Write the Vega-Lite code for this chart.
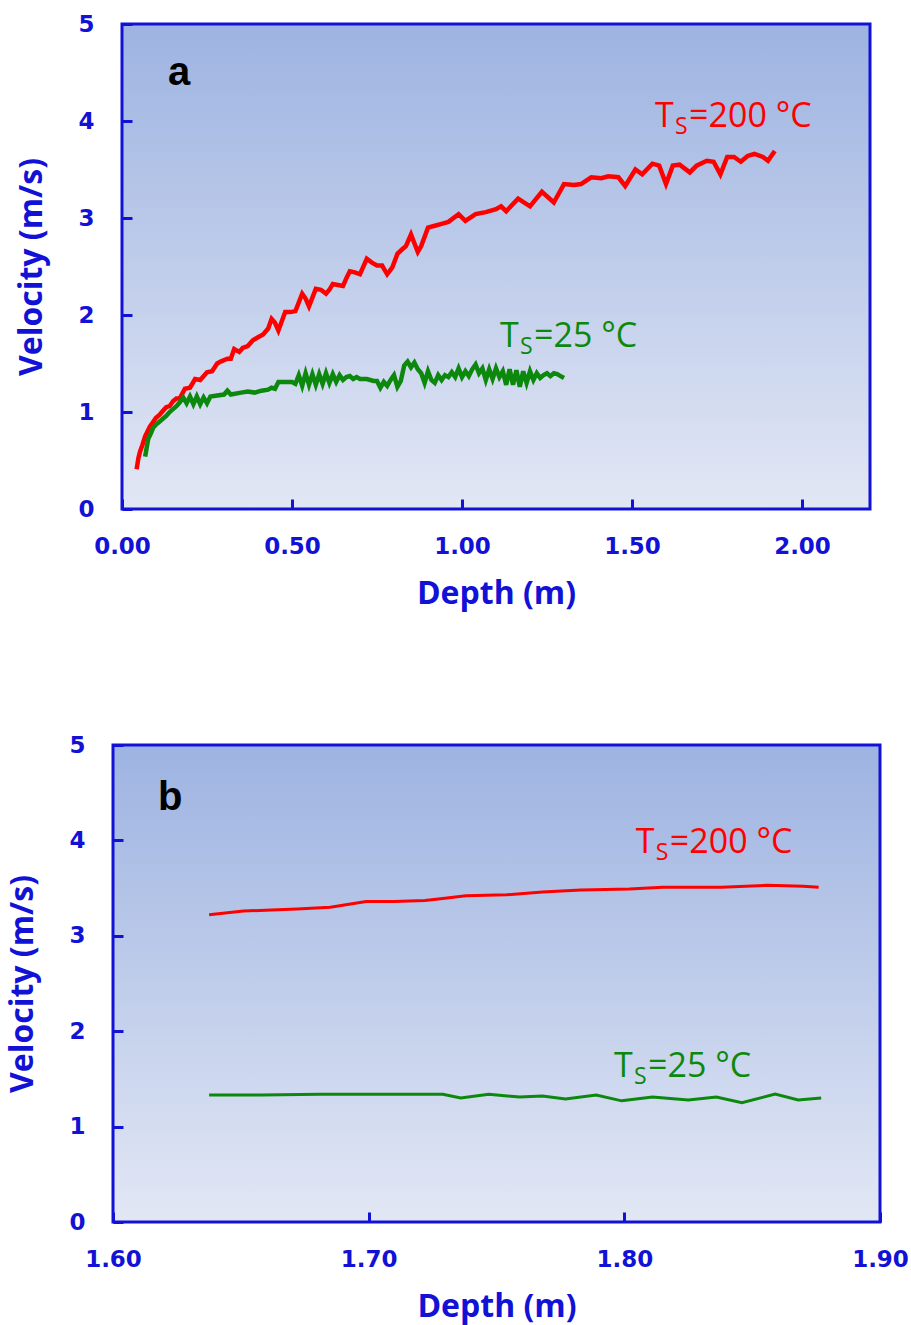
{
  "$schema": "https://vega.github.io/schema/vega-lite/v6.json",
  "background": "white",
  "padding": {"left": 6, "top": 13, "right": 2, "bottom": 5},
  "spacing": 125,
  "config": {
    "view": {"stroke": null},
    "axis": {
      "domain": false, "grid": false, "labelFlush": false,
      "labelColor": "#1212d6", "labelFont": "DejaVu Sans", "labelFontWeight": "bold", "labelFontSize": 23,
      "titleColor": "#1212d6", "titleFont": "Open Sans", "titleFontWeight": "bold", "titleFontSize": 32,
      "tickColor": "#1212d6", "tickWidth": 3, "tickSize": 10, "offset": -10, "zindex": 2
    }
  },
  "datasets": {
    "lineA": [
      {"s":"200","x":0.043,"y":0.41},{"s":"200","x":0.048,"y":0.52},{"s":"200","x":0.053,"y":0.59},{"s":"200","x":0.060,"y":0.66},{"s":"200","x":0.068,"y":0.75},{"s":"200","x":0.075,"y":0.80},{"s":"200","x":0.082,"y":0.85},{"s":"200","x":0.092,"y":0.90},{"s":"200","x":0.100,"y":0.94},{"s":"200","x":0.110,"y":0.97},{"s":"200","x":0.120,"y":1.01},{"s":"200","x":0.130,"y":1.05},{"s":"200","x":0.140,"y":1.06},{"s":"200","x":0.150,"y":1.11},{"s":"200","x":0.160,"y":1.14},{"s":"200","x":0.170,"y":1.14},{"s":"200","x":0.185,"y":1.24},{"s":"200","x":0.200,"y":1.25},{"s":"200","x":0.215,"y":1.34},{"s":"200","x":0.230,"y":1.33},{"s":"200","x":0.250,"y":1.41},{"s":"200","x":0.265,"y":1.42},{"s":"200","x":0.280,"y":1.50},{"s":"200","x":0.290,"y":1.52},{"s":"200","x":0.310,"y":1.55},{"s":"200","x":0.320,"y":1.55},{"s":"200","x":0.330,"y":1.65},{"s":"200","x":0.345,"y":1.62},{"s":"200","x":0.355,"y":1.66},{"s":"200","x":0.370,"y":1.68},{"s":"200","x":0.385,"y":1.74},{"s":"200","x":0.400,"y":1.77},{"s":"200","x":0.415,"y":1.80},{"s":"200","x":0.430,"y":1.86},{"s":"200","x":0.440,"y":1.96},{"s":"200","x":0.450,"y":1.92},{"s":"200","x":0.460,"y":1.84},{"s":"200","x":0.480,"y":2.03},{"s":"200","x":0.495,"y":2.03},{"s":"200","x":0.510,"y":2.04},{"s":"200","x":0.530,"y":2.22},{"s":"200","x":0.540,"y":2.17},{"s":"200","x":0.550,"y":2.09},{"s":"200","x":0.570,"y":2.27},{"s":"200","x":0.585,"y":2.26},{"s":"200","x":0.600,"y":2.22},{"s":"200","x":0.610,"y":2.26},{"s":"200","x":0.620,"y":2.32},{"s":"200","x":0.635,"y":2.31},{"s":"200","x":0.650,"y":2.30},{"s":"200","x":0.660,"y":2.38},{"s":"200","x":0.670,"y":2.45},{"s":"200","x":0.685,"y":2.44},{"s":"200","x":0.700,"y":2.42},{"s":"200","x":0.720,"y":2.58},{"s":"200","x":0.735,"y":2.54},{"s":"200","x":0.750,"y":2.51},{"s":"200","x":0.765,"y":2.51},{"s":"200","x":0.780,"y":2.42},{"s":"200","x":0.795,"y":2.49},{"s":"200","x":0.810,"y":2.63},{"s":"200","x":0.825,"y":2.68},{"s":"200","x":0.835,"y":2.71},{"s":"200","x":0.850,"y":2.83},{"s":"200","x":0.860,"y":2.74},{"s":"200","x":0.870,"y":2.65},{"s":"200","x":0.880,"y":2.71},{"s":"200","x":0.900,"y":2.90},{"s":"200","x":0.920,"y":2.92},{"s":"200","x":0.940,"y":2.94},{"s":"200","x":0.960,"y":2.96},{"s":"200","x":0.990,"y":3.04},{"s":"200","x":1.010,"y":2.97},{"s":"200","x":1.040,"y":3.04},{"s":"200","x":1.070,"y":3.06},{"s":"200","x":1.100,"y":3.09},{"s":"200","x":1.115,"y":3.12},{"s":"200","x":1.130,"y":3.07},{"s":"200","x":1.165,"y":3.20},{"s":"200","x":1.200,"y":3.12},{"s":"200","x":1.235,"y":3.27},{"s":"200","x":1.270,"y":3.16},{"s":"200","x":1.300,"y":3.35},{"s":"200","x":1.330,"y":3.34},{"s":"200","x":1.350,"y":3.35},{"s":"200","x":1.380,"y":3.42},{"s":"200","x":1.410,"y":3.41},{"s":"200","x":1.430,"y":3.43},{"s":"200","x":1.460,"y":3.42},{"s":"200","x":1.480,"y":3.33},{"s":"200","x":1.510,"y":3.50},{"s":"200","x":1.530,"y":3.45},{"s":"200","x":1.560,"y":3.56},{"s":"200","x":1.580,"y":3.54},{"s":"200","x":1.600,"y":3.35},{"s":"200","x":1.620,"y":3.54},{"s":"200","x":1.640,"y":3.55},{"s":"200","x":1.670,"y":3.47},{"s":"200","x":1.690,"y":3.54},{"s":"200","x":1.720,"y":3.59},{"s":"200","x":1.740,"y":3.58},{"s":"200","x":1.760,"y":3.45},{"s":"200","x":1.780,"y":3.63},{"s":"200","x":1.800,"y":3.63},{"s":"200","x":1.820,"y":3.58},{"s":"200","x":1.840,"y":3.64},{"s":"200","x":1.860,"y":3.66},{"s":"200","x":1.885,"y":3.63},{"s":"200","x":1.900,"y":3.59},{"s":"200","x":1.920,"y":3.69},
      {"s":"25","x":0.068,"y":0.54},{"s":"25","x":0.072,"y":0.62},{"s":"25","x":0.077,"y":0.72},{"s":"25","x":0.085,"y":0.78},{"s":"25","x":0.092,"y":0.84},{"s":"25","x":0.100,"y":0.87},{"s":"25","x":0.110,"y":0.90},{"s":"25","x":0.120,"y":0.93},{"s":"25","x":0.130,"y":0.96},{"s":"25","x":0.140,"y":1.00},{"s":"25","x":0.150,"y":1.03},{"s":"25","x":0.160,"y":1.06},{"s":"25","x":0.170,"y":1.10},{"s":"25","x":0.180,"y":1.15},{"s":"25","x":0.190,"y":1.09},{"s":"25","x":0.200,"y":1.16},{"s":"25","x":0.210,"y":1.08},{"s":"25","x":0.220,"y":1.16},{"s":"25","x":0.230,"y":1.08},{"s":"25","x":0.240,"y":1.15},{"s":"25","x":0.250,"y":1.09},{"s":"25","x":0.260,"y":1.16},{"s":"25","x":0.280,"y":1.17},{"s":"25","x":0.300,"y":1.18},{"s":"25","x":0.310,"y":1.22},{"s":"25","x":0.320,"y":1.18},{"s":"25","x":0.350,"y":1.20},{"s":"25","x":0.370,"y":1.21},{"s":"25","x":0.390,"y":1.20},{"s":"25","x":0.410,"y":1.22},{"s":"25","x":0.430,"y":1.23},{"s":"25","x":0.440,"y":1.25},{"s":"25","x":0.450,"y":1.24},{"s":"25","x":0.460,"y":1.31},{"s":"25","x":0.480,"y":1.31},{"s":"25","x":0.500,"y":1.31},{"s":"25","x":0.510,"y":1.29},{"s":"25","x":0.520,"y":1.38},{"s":"25","x":0.530,"y":1.27},{"s":"25","x":0.540,"y":1.40},{"s":"25","x":0.550,"y":1.28},{"s":"25","x":0.560,"y":1.39},{"s":"25","x":0.570,"y":1.28},{"s":"25","x":0.580,"y":1.39},{"s":"25","x":0.590,"y":1.29},{"s":"25","x":0.600,"y":1.40},{"s":"25","x":0.610,"y":1.30},{"s":"25","x":0.620,"y":1.39},{"s":"25","x":0.630,"y":1.31},{"s":"25","x":0.640,"y":1.38},{"s":"25","x":0.650,"y":1.33},{"s":"25","x":0.660,"y":1.36},{"s":"25","x":0.670,"y":1.37},{"s":"25","x":0.680,"y":1.34},{"s":"25","x":0.690,"y":1.36},{"s":"25","x":0.700,"y":1.34},{"s":"25","x":0.720,"y":1.34},{"s":"25","x":0.740,"y":1.32},{"s":"25","x":0.750,"y":1.32},{"s":"25","x":0.760,"y":1.25},{"s":"25","x":0.770,"y":1.31},{"s":"25","x":0.780,"y":1.27},{"s":"25","x":0.790,"y":1.33},{"s":"25","x":0.800,"y":1.38},{"s":"25","x":0.810,"y":1.26},{"s":"25","x":0.820,"y":1.32},{"s":"25","x":0.830,"y":1.48},{"s":"25","x":0.840,"y":1.52},{"s":"25","x":0.850,"y":1.46},{"s":"25","x":0.860,"y":1.51},{"s":"25","x":0.870,"y":1.44},{"s":"25","x":0.880,"y":1.40},{"s":"25","x":0.890,"y":1.30},{"s":"25","x":0.900,"y":1.42},{"s":"25","x":0.910,"y":1.33},{"s":"25","x":0.920,"y":1.30},{"s":"25","x":0.930,"y":1.38},{"s":"25","x":0.940,"y":1.33},{"s":"25","x":0.950,"y":1.38},{"s":"25","x":0.960,"y":1.36},{"s":"25","x":0.970,"y":1.41},{"s":"25","x":0.980,"y":1.36},{"s":"25","x":0.990,"y":1.45},{"s":"25","x":1.000,"y":1.36},{"s":"25","x":1.010,"y":1.42},{"s":"25","x":1.020,"y":1.37},{"s":"25","x":1.030,"y":1.44},{"s":"25","x":1.040,"y":1.49},{"s":"25","x":1.050,"y":1.40},{"s":"25","x":1.060,"y":1.45},{"s":"25","x":1.070,"y":1.33},{"s":"25","x":1.080,"y":1.44},{"s":"25","x":1.090,"y":1.34},{"s":"25","x":1.100,"y":1.45},{"s":"25","x":1.110,"y":1.36},{"s":"25","x":1.120,"y":1.42},{"s":"25","x":1.130,"y":1.28},{"s":"25","x":1.140,"y":1.44},{"s":"25","x":1.150,"y":1.28},{"s":"25","x":1.160,"y":1.43},{"s":"25","x":1.170,"y":1.26},{"s":"25","x":1.180,"y":1.42},{"s":"25","x":1.190,"y":1.30},{"s":"25","x":1.200,"y":1.42},{"s":"25","x":1.210,"y":1.33},{"s":"25","x":1.220,"y":1.40},{"s":"25","x":1.230,"y":1.35},{"s":"25","x":1.240,"y":1.38},{"s":"25","x":1.250,"y":1.40},{"s":"25","x":1.260,"y":1.37},{"s":"25","x":1.270,"y":1.40},{"s":"25","x":1.280,"y":1.39},{"s":"25","x":1.290,"y":1.37},{"s":"25","x":1.300,"y":1.35}
    ],
    "lineB": [
      {"s":"200","x":1.6376,"y":3.22},{"s":"200","x":1.651,"y":3.26},{"s":"200","x":1.662,"y":3.27},{"s":"200","x":1.672,"y":3.28},{"s":"200","x":1.685,"y":3.30},{"s":"200","x":1.699,"y":3.36},{"s":"200","x":1.710,"y":3.36},{"s":"200","x":1.722,"y":3.37},{"s":"200","x":1.729,"y":3.39},{"s":"200","x":1.738,"y":3.42},{"s":"200","x":1.754,"y":3.43},{"s":"200","x":1.768,"y":3.46},{"s":"200","x":1.783,"y":3.48},{"s":"200","x":1.802,"y":3.49},{"s":"200","x":1.815,"y":3.51},{"s":"200","x":1.838,"y":3.51},{"s":"200","x":1.856,"y":3.53},{"s":"200","x":1.870,"y":3.52},{"s":"200","x":1.876,"y":3.51},
      {"s":"25","x":1.6376,"y":1.33},{"s":"25","x":1.658,"y":1.33},{"s":"25","x":1.681,"y":1.34},{"s":"25","x":1.715,"y":1.34},{"s":"25","x":1.729,"y":1.34},{"s":"25","x":1.736,"y":1.30},{"s":"25","x":1.747,"y":1.34},{"s":"25","x":1.759,"y":1.31},{"s":"25","x":1.768,"y":1.32},{"s":"25","x":1.777,"y":1.29},{"s":"25","x":1.789,"y":1.33},{"s":"25","x":1.799,"y":1.27},{"s":"25","x":1.811,"y":1.31},{"s":"25","x":1.825,"y":1.28},{"s":"25","x":1.836,"y":1.31},{"s":"25","x":1.846,"y":1.25},{"s":"25","x":1.859,"y":1.34},{"s":"25","x":1.868,"y":1.28},{"s":"25","x":1.877,"y":1.30}
    ],
    "labA": [
      {"s":"200","x":1.568,"y":4.04,"main":"T","sub":"S","rest":"=200 °C"},
      {"s":"25","x":1.112,"y":1.77,"main":"T","sub":"S","rest":"=25 °C"}
    ],
    "labB": [
      {"s":"200","x":1.8045,"y":3.97,"main":"T","sub":"S","rest":"=200 °C"},
      {"s":"25","x":1.796,"y":1.62,"main":"T","sub":"S","rest":"=25 °C"}
    ]
  },
  "vconcat": [
    {
      "width": 757, "height": 485,
      "layer": [
        {
          "data": {"values": [{}]},
          "mark": {"type": "rect", "stroke": "#1212d6", "strokeWidth": 3,
            "fill": {"gradient": "linear", "x1": 0, "y1": 0, "x2": 0, "y2": 1,
              "stops": [{"offset": 0, "color": "#9db3e1"}, {"offset": 1, "color": "#e2e7f4"}]}},
          "encoding": {
            "x": {"datum": 0, "type": "quantitative", "scale": {"domain": [0, 2.2], "range": [9, 757]}},
            "x2": {"datum": 2.2},
            "y": {"datum": 0, "type": "quantitative", "scale": {"domain": [0, 5]}},
            "y2": {"datum": 5}
          }
        },
        {
          "data": {"name": "lineA"},
          "mark": {"type": "line", "strokeWidth": 4.5, "strokeJoin": "miter", "strokeCap": "butt"},
          "encoding": {
            "x": {"field": "x", "type": "quantitative", "scale": {"domain": [0, 2.2], "range": [9, 757], "nice": false},
              "axis": {"title": "Depth (m)", "titleX": 383, "values": [0, 0.5, 1, 1.5, 2], "format": ".2f", "labelPadding": 26, "titlePadding": 20, "zindex": 2}},
            "y": {"field": "y", "type": "quantitative", "scale": {"domain": [0, 5], "nice": false},
              "axis": {"title": "Velocity (m/s)", "values": [0, 1, 2, 3, 4, 5], "format": "d", "offset": -19, "labelPadding": 28, "titlePadding": 29, "zindex": 2}},
            "color": {"field": "s", "type": "nominal", "scale": {"domain": ["200", "25"], "range": ["#ff0000", "#0c880c"]}, "legend": null},
            "order": {"field": "x"}
          }
        },
        {
          "data": {"values": [{"t": "a", "x": 0.135, "y": 4.49}]},
          "mark": {"type": "text", "font": "Liberation Sans", "fontWeight": "bold", "fontSize": 40, "align": "left", "baseline": "middle", "color": "#000000"},
          "encoding": {"x": {"field": "x", "type": "quantitative"}, "y": {"field": "y", "type": "quantitative"}, "text": {"field": "t"}}
        },
        {
          "data": {"name": "labA"},
          "mark": {"type": "text", "font": "Open Sans", "fontSize": 34, "align": "left", "baseline": "middle"},
          "encoding": {"x": {"field": "x", "type": "quantitative"}, "y": {"field": "y", "type": "quantitative"}, "text": {"field": "main"},
            "color": {"field": "s", "type": "nominal", "scale": {"domain": ["200", "25"], "range": ["#ee1111", "#1a951a"]}, "legend": null}}
        },
        {
          "data": {"name": "labA"},
          "mark": {"type": "text", "font": "Open Sans", "fontSize": 23, "align": "left", "baseline": "middle", "dx": 20, "dy": 10},
          "encoding": {"x": {"field": "x", "type": "quantitative"}, "y": {"field": "y", "type": "quantitative"}, "text": {"field": "sub"},
            "color": {"field": "s", "type": "nominal", "legend": null}}
        },
        {
          "data": {"name": "labA"},
          "mark": {"type": "text", "font": "Open Sans", "fontSize": 34, "align": "left", "baseline": "middle", "dx": 34},
          "encoding": {"x": {"field": "x", "type": "quantitative"}, "y": {"field": "y", "type": "quantitative"}, "text": {"field": "rest"},
            "color": {"field": "s", "type": "nominal", "legend": null}}
        }
      ]
    },
    {
      "width": 767, "height": 477,
      "layer": [
        {
          "data": {"values": [{}]},
          "mark": {"type": "rect", "stroke": "#1212d6", "strokeWidth": 3,
            "fill": {"gradient": "linear", "x1": 0, "y1": 0, "x2": 0, "y2": 1,
              "stops": [{"offset": 0, "color": "#9db3e1"}, {"offset": 1, "color": "#e2e7f4"}]}},
          "encoding": {
            "x": {"datum": 1.6, "type": "quantitative", "scale": {"domain": [1.6, 1.9]}},
            "x2": {"datum": 1.9},
            "y": {"datum": 0, "type": "quantitative", "scale": {"domain": [0, 5]}},
            "y2": {"datum": 5}
          }
        },
        {
          "data": {"name": "lineB"},
          "mark": {"type": "line", "strokeWidth": 3},
          "encoding": {
            "x": {"field": "x", "type": "quantitative", "scale": {"domain": [1.6, 1.9], "nice": false, "zero": false},
              "axis": {"title": "Depth (m)", "values": [1.6, 1.7, 1.8, 1.9], "format": ".2f", "labelPadding": 26, "titlePadding": 20, "zindex": 2}},
            "y": {"field": "y", "type": "quantitative", "scale": {"domain": [0, 5], "nice": false},
              "axis": {"title": "Velocity (m/s)", "values": [0, 1, 2, 3, 4, 5], "format": "d", "labelPadding": 28, "titlePadding": 29, "zindex": 2}},
            "color": {"field": "s", "type": "nominal", "scale": {"domain": ["200", "25"], "range": ["#ff0000", "#0c880c"]}, "legend": null},
            "order": {"field": "x"}
          }
        },
        {
          "data": {"values": [{"t": "b", "x": 1.6176, "y": 4.44}]},
          "mark": {"type": "text", "font": "Liberation Sans", "fontWeight": "bold", "fontSize": 40, "align": "left", "baseline": "middle", "color": "#000000"},
          "encoding": {"x": {"field": "x", "type": "quantitative"}, "y": {"field": "y", "type": "quantitative"}, "text": {"field": "t"}}
        },
        {
          "data": {"name": "labB"},
          "mark": {"type": "text", "font": "Open Sans", "fontSize": 34, "align": "left", "baseline": "middle"},
          "encoding": {"x": {"field": "x", "type": "quantitative"}, "y": {"field": "y", "type": "quantitative"}, "text": {"field": "main"},
            "color": {"field": "s", "type": "nominal", "scale": {"domain": ["200", "25"], "range": ["#ee1111", "#1a951a"]}, "legend": null}}
        },
        {
          "data": {"name": "labB"},
          "mark": {"type": "text", "font": "Open Sans", "fontSize": 23, "align": "left", "baseline": "middle", "dx": 20, "dy": 10},
          "encoding": {"x": {"field": "x", "type": "quantitative"}, "y": {"field": "y", "type": "quantitative"}, "text": {"field": "sub"},
            "color": {"field": "s", "type": "nominal", "legend": null}}
        },
        {
          "data": {"name": "labB"},
          "mark": {"type": "text", "font": "Open Sans", "fontSize": 34, "align": "left", "baseline": "middle", "dx": 34},
          "encoding": {"x": {"field": "x", "type": "quantitative"}, "y": {"field": "y", "type": "quantitative"}, "text": {"field": "rest"},
            "color": {"field": "s", "type": "nominal", "legend": null}}
        }
      ]
    }
  ]
}
